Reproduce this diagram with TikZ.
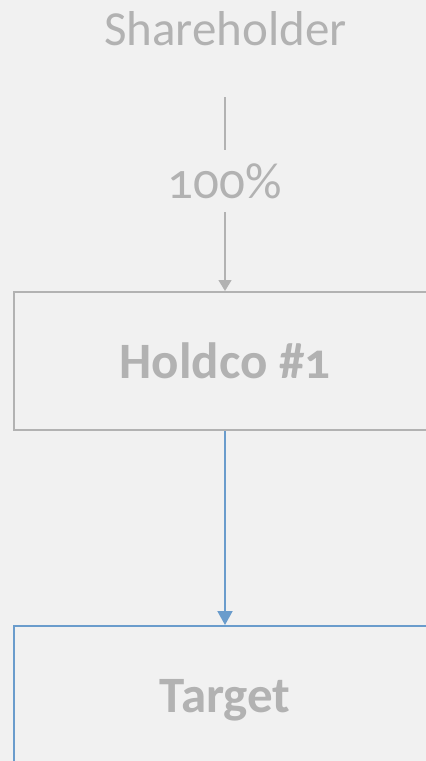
\documentclass[tikz,border=0pt]{standalone}
\usepackage{fontspec}
\setmainfont{Carlito}[Numbers=OldStyle]
\usetikzlibrary{arrows.meta}
\definecolor{bg}{RGB}{241,241,241}
\definecolor{ink}{RGB}{178,178,178}
\definecolor{link}{RGB}{106,156,204}
\tikzset{
  entity/.style={draw=ink, line width=2pt, minimum width=422pt, minimum height=138pt,
    inner sep=0pt, text height=34pt, text depth=0pt, text=ink,
    font=\fontsize{51}{54}\selectfont\bfseries},
  owner/.style={text=ink, inner sep=0pt, font=\fontsize{49}{52}\selectfont},
  share/.style={text=ink, inner sep=0pt, minimum height=62pt, text height=34pt, text depth=0pt,
    font=\fontsize{51}{54}\selectfont},
  ownline/.style={draw=ink, line width=1.5pt},
  ownarrow/.style={ownline, -{Triangle[width=13pt,length=11pt]}},
  ctrlarrow/.style={draw=link, line width=2pt, -{Triangle[width=15pt,length=14pt]}}
}
\begin{document}
\begin{tikzpicture}[x=1pt, y=-1pt]
  \useasboundingbox (0,0) rectangle (426,761);
  \fill[bg] (0,0) rectangle (426,761);
  \clip (0,0) rectangle (426,761);

  \node[owner, anchor=base] (sh) at (225.5,45) {Shareholder};
  \coordinate (stem) at (225,97);
  \node[share] (pct) at (225,181) {100\%};
  \node[entity] (hold) at (225,361) {Holdco \#1};
  \node[entity, draw=link] (tgt) at (225,695) {Target};

  \draw[ownline] (stem) -- (pct.north);
  \draw[ownarrow] (pct.south) -- (hold.north);
  \draw[ctrlarrow] (hold.south) -- (tgt.north);
\end{tikzpicture}
\end{document}
